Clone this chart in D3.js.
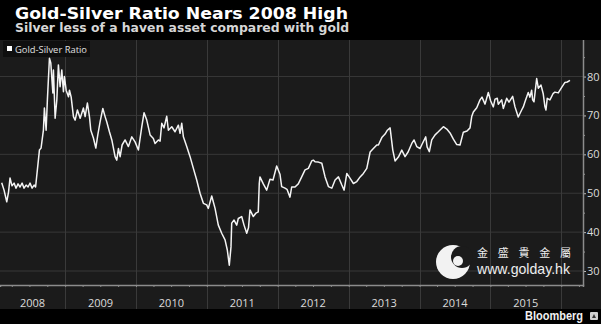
<!DOCTYPE html>
<html><head><meta charset="utf-8">
<script src="https://cdn.jsdelivr.net/npm/d3@7"></script>
<style>html,body{margin:0;padding:0;background:#000;overflow:hidden}</style>
</head><body><svg id="c" width="601" height="324"></svg>
<script>
const title = "Gold-Silver Ratio Nears 2008 High";
const subtitle = "Silver less of a haven asset compared with gold";
const seriesName = "Gold-Silver Ratio";
const yearLabels = ["2008","2009","2010","2011","2012","2013","2014","2015"];
const yTicks = [30, 40, 50, 60, 70, 80];
const yMinorTicks = [35, 45, 55, 65, 75, 85];
const watermarkCn = "金 盛 貴 金 屬";
const watermarkUrl = "www.golday.hk";
const source = "Bloomberg";

// decimal-year dates of the readings
const dates = [
2008.107,2008.140,2008.178,2008.203,2008.224,2008.252,2008.281,2008.309,2008.337,2008.365,
2008.394,2008.422,2008.450,2008.478,2008.506,2008.535,2008.563,2008.584,2008.609,2008.638,
2008.661,2008.694,2008.708,2008.732,2008.750,2008.779,2008.798,2008.827,2008.835,2008.859,
2008.883,2008.905,2008.929,2008.953,2008.976,2008.990,
2009.014,2009.047,2009.061,2009.085,2009.117,2009.141,2009.173,2009.212,2009.258,2009.282,
2009.314,2009.343,2009.362,2009.399,2009.433,2009.461,2009.494,2009.532,2009.564,2009.588,
2009.625,2009.659,2009.705,2009.729,2009.752,2009.776,2009.804,2009.846,2009.893,2009.941,2009.987,
2010.034,2010.082,2010.114,2010.152,2010.199,2010.245,2010.269,2010.316,2010.340,2010.364,
2010.396,2010.434,2010.457,2010.505,2010.551,2010.598,2010.622,2010.646,2010.669,2010.716,
2010.763,2010.810,2010.857,2010.904,2010.951,2010.998,
2011.021,2011.069,2011.116,2011.162,2011.210,2011.257,2011.289,2011.317,2011.341,2011.351,
2011.384,2011.422,2011.444,2011.492,2011.525,2011.563,2011.588,2011.609,2011.656,2011.694,
2011.726,2011.740,2011.750,2011.797,2011.845,2011.891,2011.934,2011.986,
2012.032,2012.056,2012.103,2012.131,2012.173,2012.197,2012.244,2012.290,2012.338,2012.385,
2012.432,2012.479,2012.502,2012.526,2012.573,2012.621,2012.667,2012.714,2012.762,2012.808,
2012.855,2012.903,2012.935,2012.973,
2013.020,2013.066,2013.114,2013.161,2013.207,2013.255,2013.302,2013.348,2013.396,2013.419,
2013.467,2013.513,2013.546,2013.584,2013.622,2013.654,2013.701,2013.749,2013.795,2013.838,
2013.890,2013.922,2013.960,
2014.007,2014.035,2014.087,2014.106,2014.138,2014.172,2014.219,2014.265,2014.336,2014.384,
2014.430,2014.477,2014.525,2014.571,2014.618,2014.670,2014.712,2014.736,2014.759,2014.807,
2014.853,2014.881,2014.924,2014.970,
2015.004,2015.041,2015.065,2015.097,2015.111,2015.159,2015.182,2015.230,2015.262,2015.314,
2015.347,2015.393,2015.441,2015.464,2015.488,2015.534,2015.558,2015.582,2015.596,2015.615,
2015.653,2015.676,2015.714,2015.746,2015.770,2015.784,2015.802,2015.840,2015.887,2015.911,2015.958,
2016.006,2016.052,2016.085,2016.123
];
const ratio = [
52.7,50.8,47.8,50.3,53.9,51.9,52.6,51.3,52.4,51.6,
52.6,51.3,52.1,51.6,52.6,51.3,52.1,51.6,56.0,61.1,
61.6,66.2,71.9,66.2,74.0,84.7,83.5,75.8,81.7,69.3,
74.0,83.0,77.4,81.7,76.1,80.0,
76.5,74.8,76.5,74.7,69.7,68.8,71.4,69.3,71.9,69.7,
73.2,69.7,66.2,64.2,61.6,65.0,68.4,71.8,69.7,68.3,
65.8,63.7,59.4,58.5,61.5,59.4,62.4,63.7,62.0,64.5,63.2,
61.1,67.1,70.7,68.8,65.0,64.1,62.8,63.7,63.4,68.0,
66.8,69.8,66.2,67.1,65.8,67.5,65.4,68.0,64.5,62.0,
59.4,56.4,53.4,50.0,47.4,47.0,
46.1,49.3,46.1,41.8,39.7,38.0,35.4,31.5,36.2,42.3,
43.1,41.8,43.5,44.0,41.8,39.7,41.1,45.7,44.0,44.9,
45.2,52.5,54.2,52.4,50.8,53.6,53.4,57.0,
54.9,51.7,51.3,51.0,49.0,51.6,51.6,52.4,54.2,56.0,
56.4,58.3,58.5,58.1,58.0,57.7,54.2,51.7,51.3,53.4,
54.2,52.1,50.8,55.1,
53.8,52.5,53.0,54.2,55.1,56.4,60.6,61.5,62.4,62.4,
64.3,65.2,66.2,66.8,61.1,58.3,59.3,61.1,59.4,60.6,
62.8,63.7,62.0,
61.5,62.6,64.5,61.9,60.7,63.7,65.0,65.8,67.1,66.5,
65.5,63.9,62.5,62.4,65.7,66.0,66.8,69.7,70.9,72.0,
74.0,74.7,72.9,75.9,
73.7,72.2,74.2,74.4,72.9,74.0,71.8,74.4,73.4,74.9,
72.2,69.6,71.4,72.2,73.5,75.9,74.7,76.5,74.0,73.5,
79.5,77.0,77.8,75.5,72.2,71.4,74.4,74.0,75.7,76.0,75.8,
77.2,78.5,78.6,79.0
];

function toDate(t) {
  const yr = Math.floor(t);
  const a = new Date(yr, 0, 1), b = new Date(yr + 1, 0, 1);
  return new Date(+a + (t - yr) * (b - a));
}
const data = dates.map((d, i) => ({ date: toDate(d), value: ratio[i] }));

const svg = d3.select("#c");
const plotL = 0, plotR = 583, plotT = 40, plotB = 285, bandB = 309;
const x = d3.scaleTime().domain([toDate(2008.083), toDate(2016.306)]).range([plotL, plotR]);
const y = d3.scaleLinear().domain([26.4, 89.4]).range([plotB, plotT]);

svg.append("rect").attr("width", 601).attr("height", 324).attr("fill", "#000");
svg.append("rect").attr("x", 0).attr("y", plotT).attr("width", 601).attr("height", bandB - plotT).attr("fill", "#1b1b1b");

// horizontal grid
svg.append("g").selectAll("line").data(yTicks).join("line")
  .attr("x1", plotL).attr("x2", plotR).attr("y1", d => y(d)).attr("y2", d => y(d))
  .attr("stroke", "#383838").attr("stroke-width", 1);

// year separators
const yearStarts = d3.timeYear.range(d3.timeYear.ceil(x.domain()[0]), x.domain()[1]);
svg.append("g").selectAll("line").data(yearStarts).join("line")
  .attr("x1", d => Math.round(x(d)) + 0.5).attr("x2", d => Math.round(x(d)) + 0.5)
  .attr("y1", plotT).attr("y2", bandB)
  .attr("stroke", "#3a3a3a").attr("stroke-width", 1);

// bottom axis (quarterly minor ticks)
const xAxis = d3.axisBottom(x).ticks(d3.timeMonth.every(3)).tickSize(2).tickFormat("");
const gx = svg.append("g").attr("transform", `translate(0,${plotB})`).call(xAxis);
gx.select(".domain").attr("stroke", "#8c8c8c").attr("stroke-width", 1.5);
gx.selectAll(".tick line").attr("stroke", "#8c8c8c");

// year labels centred on the visible part of each year
svg.append("g").selectAll("text").data(yearLabels).join("text")
  .attr("x", d => {
    const a = Math.max(plotL, x(new Date(+d, 0, 1)));
    const b = Math.min(plotR, x(new Date(+d + 1, 0, 1)));
    return (a + b) / 2;
  })
  .attr("y", 307).attr("text-anchor", "middle")
  .attr("font-family", "'Open Sans', sans-serif").attr("font-size", 11).attr("fill", "#dcdcdc")
  .text(d => d);

// right axis
const yAxis = d3.axisRight(y).tickValues(yTicks).tickSize(3).tickPadding(1).tickFormat(d3.format("d"));
const gy = svg.append("g").attr("transform", `translate(${plotR},0)`).call(yAxis);
gy.select(".domain").remove();
gy.selectAll(".tick line").attr("stroke", "#bbb");
gy.selectAll(".tick text").attr("font-family", "'Open Sans', sans-serif").attr("font-size", 11).attr("fill", "#dcdcdc");
const yMinor = d3.axisRight(y).tickValues(yMinorTicks).tickSize(2).tickFormat("");
const gy2 = svg.append("g").attr("transform", `translate(${plotR},0)`).call(yMinor);
gy2.select(".domain").remove();
gy2.selectAll(".tick line").attr("stroke", "#999");
svg.append("line").attr("x1", plotR + 0.5).attr("x2", plotR + 0.5).attr("y1", plotT).attr("y2", plotB + 0.75)
  .attr("stroke", "#8c8c8c").attr("stroke-width", 1.5);

// watermark
const wm = svg.append("g");
wm.append("circle").attr("cx", 453).attr("cy", 262).attr("r", 17).attr("fill", "#f2f2f2");
wm.append("circle").attr("cx", 462).attr("cy", 257).attr("r", 11).attr("fill", "#1b1b1b");
wm.append("circle").attr("cx", 458).attr("cy", 261).attr("r", 5).attr("fill", "#f2f2f2");
wm.append("text").attr("x", 477).attr("y", 256.5).attr("font-family", "'Noto Sans CJK TC', sans-serif")
  .attr("font-size", 11).attr("fill", "#eee").attr("textLength", 94).attr("lengthAdjust", "spacing").text(watermarkCn);
wm.append("text").attr("x", 477).attr("y", 274).attr("font-family", "'Liberation Sans', Arial, sans-serif")
  .attr("font-size", 14.5).attr("fill", "#eee").attr("textLength", 93).attr("lengthAdjust", "spacingAndGlyphs").text(watermarkUrl);

// line
const line = d3.line().x(d => x(d.date)).y(d => y(d.value)).curve(d3.curveLinear);
svg.append("path").datum(data).attr("d", line).attr("fill", "none")
  .attr("stroke", "#f4f4f4").attr("stroke-width", 1.5).attr("stroke-linejoin", "round");

// legend
svg.append("rect").attr("x", 3).attr("y", 41).attr("width", 87).attr("height", 16).attr("fill", "#0f0f0f");
svg.append("rect").attr("x", 7).attr("y", 46).attr("width", 5).attr("height", 5).attr("fill", "#fff");
svg.append("text").attr("x", 15).attr("y", 52.5).attr("font-family", "'Open Sans', sans-serif")
  .attr("font-size", 9).attr("fill", "#e0e0e0").attr("textLength", 72).attr("lengthAdjust", "spacingAndGlyphs").text(seriesName);

// titles
svg.append("text").attr("x", 15).attr("y", 18.5).attr("font-family", "'DejaVu Sans', sans-serif")
  .attr("font-weight", "bold").attr("font-size", 15.5).attr("fill", "#fff")
  .attr("textLength", 333).attr("lengthAdjust", "spacingAndGlyphs").text(title);
svg.append("text").attr("x", 15).attr("y", 32).attr("font-family", "'DejaVu Sans', sans-serif")
  .attr("font-weight", "bold").attr("font-size", 11.5).attr("fill", "#d6d6d6")
  .attr("textLength", 334).attr("lengthAdjust", "spacingAndGlyphs").text(subtitle);

// footer
svg.append("text").attr("x", 583).attr("y", 320).attr("text-anchor", "end")
  .attr("font-family", "'Liberation Sans', Arial, sans-serif").attr("font-weight", "bold")
  .attr("font-size", 12).attr("fill", "#f0f0f0").attr("textLength", 58).attr("lengthAdjust", "spacingAndGlyphs").text(source);
svg.append("rect").attr("x", 590).attr("y", 312).attr("width", 8).attr("height", 8).attr("rx", 1).attr("fill", "#cfcfcf");
svg.append("path").attr("d", "M592,318 L594,314 L596,318 Z").attr("fill", "#333");
</script></body></html>
